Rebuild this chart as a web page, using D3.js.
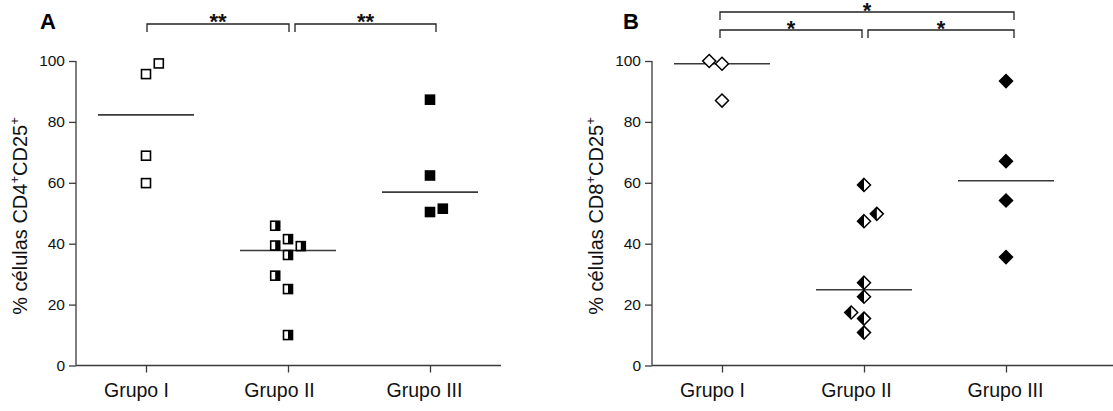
<!DOCTYPE html>
<html>
<head>
<meta charset="utf-8">
<script src="https://cdn.jsdelivr.net/npm/d3@7"></script>
<style>
  html, body { margin: 0; padding: 0; background: #fff; }
  svg { display: block; font-family: "Liberation Sans", Arial, sans-serif; }
</style>
</head>
<body>
<svg id="chart" width="1113" height="411"></svg>
<script>
// Groups and axis ticks
const groups = ["Grupo I", "Grupo II", "Grupo III"];
const yTicks = [0, 20, 40, 60, 80, 100];

// Panel A: % CD4+CD25+ cells per group
const cd4GrupoI   = [99.2, 95.7, 68.9, 59.9];
const cd4GrupoII  = [45.9, 41.5, 39.4, 39.2, 36.3, 29.5, 25.1, 10.0];
const cd4GrupoIII = [87.3, 62.4, 50.4, 51.5];
// column slot of each point inside its group (keeps overlapping points apart)
const cd4SlotI   = [1, 0, 0, 0];
const cd4SlotII  = [-1, 0, -1, 1, 0, -1, 0, 0];
const cd4SlotIII = [0, 0, 0, 1];

// Panel B: % CD8+CD25+ cells per group
const cd8GrupoI   = [100.0, 99.1, 87.0];
const cd8GrupoII  = [59.3, 47.4, 49.8, 27.2, 22.6, 17.4, 15.4, 10.8];
const cd8GrupoIII = [93.4, 67.1, 54.2, 35.6];
const cd8SlotI   = [-1, 0, 0];
const cd8SlotII  = [0, 0, 1, 0, 0, -1, 0, 0];
const cd8SlotIII = [0, 0, 0, 0];

// Significance brackets: group indices, label, stacking level
const cd4Brackets = [
  { from: 0, to: 1, label: "**", level: 0 },
  { from: 1, to: 2, label: "**", level: 0 }
];
const cd8Brackets = [
  { from: 0, to: 1, label: "*", level: 0 },
  { from: 1, to: 2, label: "*", level: 0 },
  { from: 0, to: 2, label: "*", level: 1 }
];

const svg = d3.select("#chart");
const axisColor = "#3a3a3a";

function drawPanel(opts) {
  const g = svg.append("g").attr("transform", `translate(${opts.dx},0)`);

  const y = d3.scaleLinear().domain([0, 100]).range([365.5, 61]);
  const x = d3.scalePoint().domain(groups).range([146, 430]);
  const slotW = 12.8;

  // y axis
  const yAxis = g.append("g").attr("transform", "translate(76,0)")
    .call(d3.axisLeft(y).tickValues(yTicks).tickSize(7).tickPadding(4));
  yAxis.select(".domain").attr("stroke", axisColor).attr("stroke-width", 1.3)
    .attr("d", `M0,${y(0)}V${y(100)}`);
  yAxis.selectAll(".tick line").attr("stroke", axisColor).attr("stroke-width", 1.3);
  yAxis.selectAll(".tick text").attr("fill", "#111").style("font-size", "15.5px")
    .style("font-family", "Liberation Sans, Arial, sans-serif");

  // x axis
  const xAxis = g.append("g").attr("transform", `translate(0,${y(0)})`)
    .call(d3.axisBottom(x).tickSize(7).tickPadding(11));
  xAxis.select(".domain").attr("stroke", axisColor).attr("stroke-width", 1.3)
    .attr("d", `M76,0H${opts.xEnd}`);
  xAxis.selectAll(".tick line").attr("stroke", axisColor).attr("stroke-width", 1.3);
  xAxis.selectAll(".tick text").attr("fill", "#111").style("font-size", "19.5px")
    .style("font-family", "Liberation Sans, Arial, sans-serif")
    .attr("dx", (d, i) => opts.labelShift[i]);

  // y axis title with superscripts
  const title = g.append("text")
    .attr("transform", `translate(27,${opts.titleY}) rotate(-90)`)
    .attr("text-anchor", "middle")
    .attr("fill", "#111")
    .style("font-size", "20px");
  title.append("tspan").text(`% células ${opts.marker}`);
  title.append("tspan").attr("dy", -8).style("font-size", "13px").text("+");
  title.append("tspan").attr("dy", 8).text("CD25");
  title.append("tspan").attr("dy", -8).style("font-size", "13px").text("+");

  // panel letter
  g.append("text").attr("x", opts.letterX).attr("y", 29)
    .attr("fill", "#000").style("font-size", "22px").style("font-weight", "bold")
    .text(opts.letter);

  // median lines
  opts.series.forEach((vals, i) => {
    const cx = x(groups[i]);
    const m = d3.median(vals);
    g.append("line")
      .attr("x1", cx - 48).attr("x2", cx + 48)
      .attr("y1", y(m)).attr("y2", y(m))
      .attr("stroke", "#3a3a3a").attr("stroke-width", 1.6);
  });

  // points
  opts.series.forEach((vals, i) => {
    const cx = x(groups[i]);
    vals.forEach((v, j) => {
      const px = cx + opts.slots[i][j] * slotW;
      const py = y(v);
      opts.drawMark(g, px, py, i);
    });
  });

  // significance brackets
  opts.brackets.forEach(b => {
    const x1 = x(groups[b.from]) + (b.from === 1 ? 6 : 0) + opts.bracketShift;
    const x2 = x(groups[b.to]) + (b.to === 1 ? opts.bracketShift : opts.bracketRight);
    const top = opts.bracketTop - b.level * opts.levelStep;
    g.append("path")
      .attr("d", `M${x1},${top + 8}V${top}H${x2}V${top + 8}`)
      .attr("fill", "none").attr("stroke", "#222").attr("stroke-width", 1.3);
    g.append("text")
      .attr("x", (x1 + x2) / 2).attr("y", top + opts.starDy)
      .attr("text-anchor", "middle").attr("fill", "#111")
      .style("font-size", "22px").style("font-weight", "bold")
      .text(b.label);
  });
}

// square marks: open, half filled (right side black), filled
function squareMark(g, px, py, i) {
  const s = 9;
  if (i === 1) {
    g.append("rect").attr("x", px).attr("y", py - s / 2).attr("width", s / 2).attr("height", s)
      .attr("fill", "#000");
  }
  g.append("rect").attr("x", px - s / 2).attr("y", py - s / 2).attr("width", s).attr("height", s)
    .attr("fill", i === 2 ? "#000" : "none").attr("stroke", "#000").attr("stroke-width", 1.6);
}

// diamond marks: open, half filled (left side black), filled
function diamondMark(g, px, py, i) {
  const r = 6.5;
  if (i === 1) {
    g.append("path").attr("d", `M${px},${py - r}L${px - r},${py}L${px},${py + r}Z`).attr("fill", "#000");
  }
  g.append("path")
    .attr("d", `M${px},${py - r}L${px + r},${py}L${px},${py + r}L${px - r},${py}Z`)
    .attr("fill", i === 2 ? "#000" : "#fff").attr("fill-opacity", i === 1 ? 0 : 1)
    .attr("stroke", "#000").attr("stroke-width", 1.5).attr("stroke-linejoin", "miter");
}

drawPanel({
  dx: 0, xEnd: 501, titleY: 216, marker: "CD4", letter: "A", letterX: 40,
  series: [cd4GrupoI, cd4GrupoII, cd4GrupoIII],
  slots: [cd4SlotI, cd4SlotII, cd4SlotIII],
  labelShift: [-10, -9, -6],
  drawMark: squareMark, brackets: cd4Brackets,
  bracketTop: 24, levelStep: 18, starDy: 5, bracketShift: 1, bracketRight: 6
});

drawPanel({
  dx: 576, xEnd: 540, titleY: 216, marker: "CD8", letter: "B", letterX: 47,
  series: [cd8GrupoI, cd8GrupoII, cd8GrupoIII],
  slots: [cd8SlotI, cd8SlotII, cd8SlotIII],
  labelShift: [-10, -8, -1],
  drawMark: diamondMark, brackets: cd8Brackets,
  bracketTop: 30, levelStep: 18, starDy: 6, bracketShift: -2, bracketRight: 8
});
</script>
</body>
</html>
